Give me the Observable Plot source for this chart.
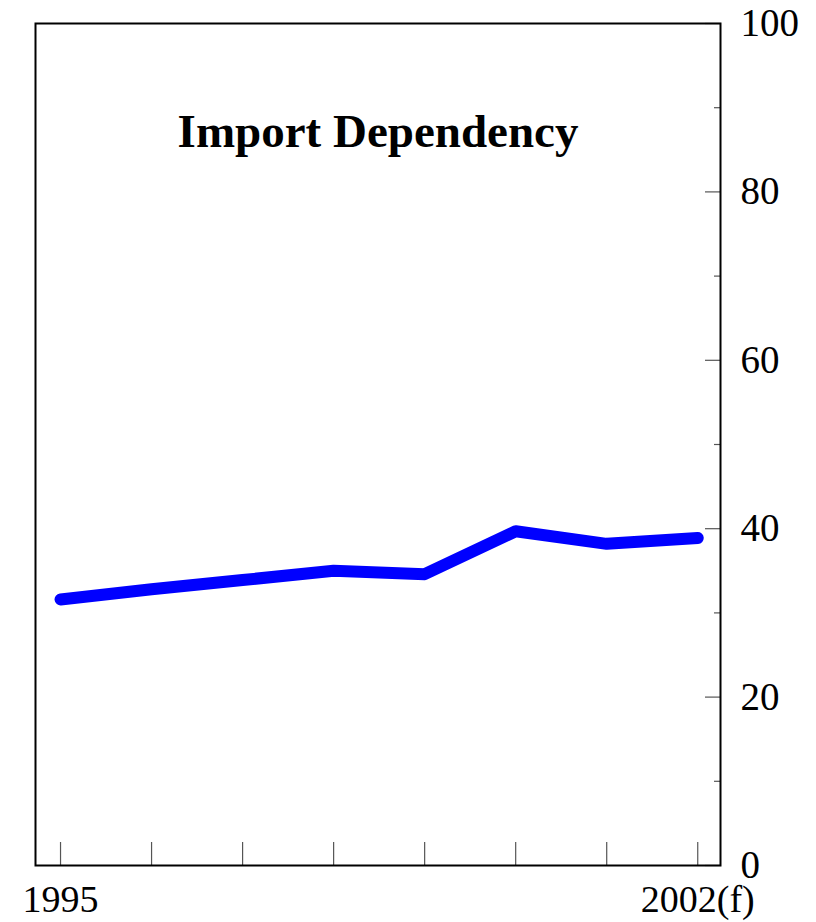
<!DOCTYPE html>
<html>
<head>
<meta charset="utf-8">
<script src="https://cdn.jsdelivr.net/npm/d3@7"></script>
<script src="https://cdn.jsdelivr.net/npm/@observablehq/plot@0.6"></script>
<style>
  html, body { margin: 0; padding: 0; background: #fff; }
  svg { display: block; }
</style>
</head>
<body>
<div id="chart"></div>
<script>
const title = "Import Dependency";
const years = [1995, 1996, 1997, 1998, 1999, 2000, 2001, 2002];
const importDependency = [31.6, 32.8, 33.9, 35.0, 34.6, 39.7, 38.2, 38.9];
const yearLabels = {1995: "1995", 2002: "2002(f)"};
const yMajorTicks = [0, 20, 40, 60, 80, 100];
const yMinorTicks = [10, 30, 50, 70, 90];

const data = years.map((year, i) => ({year, value: importDependency[i]}));
const font = "'Liberation Serif', 'Times New Roman', serif";

const chart = Plot.plot({
  width: 816,
  height: 922,
  marginLeft: 35,
  marginRight: 96,
  marginTop: 23,
  marginBottom: 57,
  style: {fontFamily: font, background: "#fff", color: "#000"},
  x: {domain: [1994.725, 2002.25], label: null},
  y: {domain: [0, 100], label: null},
  marks: [
    Plot.axisX(years, {tickSize: -23, tickFormat: () => "", stroke: "#555", strokeWidth: 1.2, label: null}),
    Plot.axisX(years, {tickSize: 0, tickPadding: 20, tickFormat: d => yearLabels[d] ?? "", fontSize: 38, fill: "#000", label: null}),
    Plot.axisY(yMajorTicks, {anchor: "right", tickSize: -16, tickFormat: () => "", stroke: "#555", strokeWidth: 1.2, label: null}),
    Plot.axisY(yMinorTicks, {anchor: "right", tickSize: -7, tickFormat: () => "", stroke: "#555", strokeWidth: 1.2, label: null}),
    Plot.axisY(yMajorTicks, {anchor: "right", tickSize: 0, tickPadding: 20, fontSize: 39, fill: "#000", textAnchor: "start", label: null}),
    Plot.frame({stroke: "#000", strokeWidth: 2}),
    Plot.line(data, {x: "year", y: "value", stroke: "#0000ff", strokeWidth: 12, strokeLinecap: "round", strokeLinejoin: "round"}),
    Plot.text([title], {frameAnchor: "top", dy: 108, text: d => d, fontSize: 47, fontWeight: "bold", fill: "#000", fontFamily: font, lineAnchor: "middle"})
  ]
});
document.getElementById("chart").appendChild(chart);
</script>
</body>
</html>
